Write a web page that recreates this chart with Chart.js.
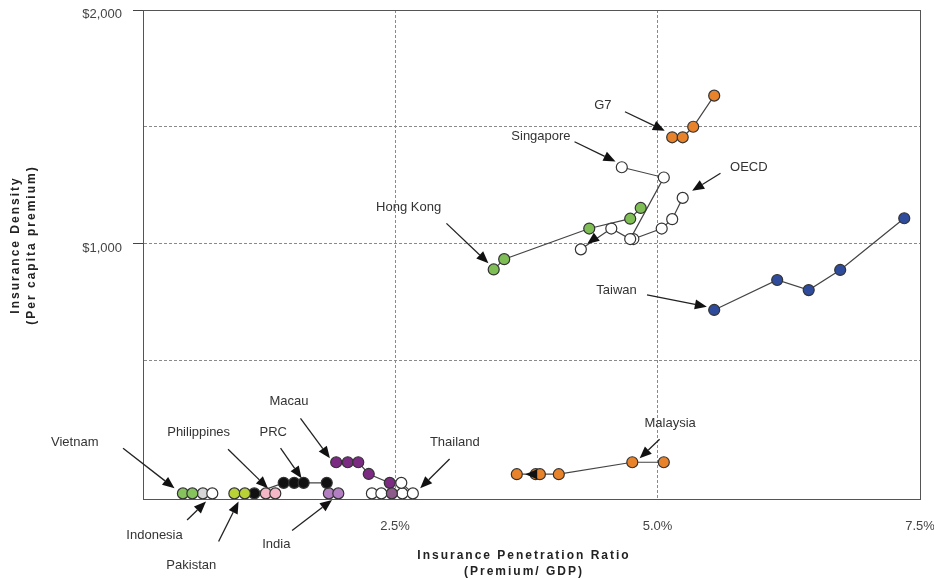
<!DOCTYPE html>
<html>
<head>
  <title>Insurance Density vs Penetration</title>
  <script src="https://cdn.jsdelivr.net/npm/chart.js"></script>
  <style>
    html, body { margin: 0; padding: 0; background: #fff; }
    #wrap { width: 934px; height: 579px; }
  </style>
</head>
<body>
  <div id="wrap"><canvas id="densityChart" width="934" height="579"></canvas></div>
  <script>
    // x = insurance penetration (premium / GDP, %), y = insurance density (US$ per capita)
    const vietnam     = [[0.48, -66], [0.57, -66]];
    const indonesia   = [[0.67, -66], [0.76, -66]];
    const pakistan    = [[0.97, -66], [1.07, -66]];
    const philippines = [[1.27, -66], [1.36, -66]];
    const prc         = [[1.16, -66], [1.44, -21], [1.54, -21], [1.63, -21], [1.85, -21]];
    const india       = [[1.87, -66], [1.96, -66]];
    const macau       = [[1.94, 67], [2.05, 67], [2.15, 67], [2.25, 17], [2.45, -21], [2.47, -66]];
    const thailand    = [[2.28, -66], [2.37, -66], [2.57, -66], [2.67, -66], [2.56, -21]];
    const malaysia    = [[3.66, 16], [3.84, 16], [3.88, 16], [4.06, 16], [4.76, 67], [5.06, 67]];
    const hongKong    = [[3.44, 891], [3.54, 935], [4.35, 1066], [4.74, 1108], [4.84, 1154]];
    const singapore   = [[4.27, 977], [4.56, 1066], [4.74, 1021], [5.06, 1284], [4.66, 1328]];
    const oecd        = [[4.77, 1021], [5.04, 1066], [5.14, 1106], [5.24, 1197]];
    const g7          = [[5.14, 1456], [5.24, 1456], [5.34, 1501], [5.54, 1634]];
    const taiwan      = [[5.54, 718], [6.14, 846], [6.44, 803], [6.74, 889], [7.35, 1110]];

    const xTickValues = [2.5, 5.0, 7.5];
    const xTickLabels = ['2.5%', '5.0%', '7.5%'];
    const yGridValues = [500, 1000, 1500, 2000];
    const yTickValues = [1000, 2000];
    const yTickLabels = ['$1,000', '$2,000'];

    // callouts: label position, then arrow tail -> arrow tip (all in data units)
    const callouts = [
      { text: 'Vietnam',     at: [-0.55, 153],   from: [-0.09, 127],  to: [0.40, -44] },
      { text: 'Philippines', at: [0.63, 194],    from: [0.91, 123],   to: [1.29, -44] },
      { text: 'PRC',         at: [1.34, 194],    from: [1.41, 127],   to: [1.61, -1] },
      { text: 'Macau',       at: [1.49, 326],    from: [1.60, 255],   to: [1.88, 84] },
      { text: 'Thailand',    at: [3.07, 153],    from: [3.02, 81],    to: [2.74, -44] },
      { text: 'Indonesia',   at: [0.21, -244],   from: [0.52, -180],  to: [0.70, -101] },
      { text: 'Pakistan',    at: [0.56, -372],   from: [0.82, -272],  to: [1.01, -101] },
      { text: 'India',       at: [1.37, -283],   from: [1.52, -225],  to: [1.90, -94] },
      { text: 'Malaysia',    at: [5.12, 234],    from: [5.02, 165],   to: [4.83, 84] },
      { text: 'G7',          at: [4.48, 1591],   from: [4.69, 1565],  to: [5.07, 1484] },
      { text: 'Singapore',   at: [3.89, 1459],   from: [4.21, 1437],  to: [4.60, 1352] },
      { text: 'OECD',        at: [5.87, 1328],   from: [5.60, 1302],  to: [5.33, 1227] },
      { text: 'Hong Kong',   at: [2.63, 1155],   from: [2.99, 1088],  to: [3.39, 918] },
      { text: 'Taiwan',      at: [4.61, 803],    from: [4.90, 782],   to: [5.47, 732] },
      { text: '',            at: null,           from: [4.42, 1030],  to: [4.33, 1000] },
      { text: '',            at: null,           from: [3.83, 16],    to: [3.74, 16] }
    ];

    const FONT = '"Liberation Sans", Arial, sans-serif';
    const ORANGE = '#e8832c';

    function series(label, pts, color) {
      return {
        label: label,
        data: pts.map(p => ({ x: p[0], y: p[1] })),
        showLine: true,
        borderColor: '#444',
        borderWidth: 1.2,
        pointBackgroundColor: color,
        pointBorderColor: '#333',
        pointBorderWidth: 1.2,
        pointRadius: 5.5,
        pointHoverRadius: 5.5
      };
    }

    const calloutPlugin = {
      id: 'callouts',
      afterDatasetsDraw(chart) {
        const ctx = chart.ctx;
        const xs = chart.scales.x, ys = chart.scales.y;
        ctx.save();
        ctx.font = '13px ' + FONT;
        ctx.strokeStyle = '#222';
        ctx.lineWidth = 1.3;
        ctx.textAlign = 'center';
        ctx.textBaseline = 'middle';
        callouts.forEach(c => {
          if (c.at) {
            ctx.fillStyle = '#333';
            ctx.fillText(c.text, xs.getPixelForValue(c.at[0]), ys.getPixelForValue(c.at[1]));
          }
          const x1 = xs.getPixelForValue(c.from[0]), y1 = ys.getPixelForValue(c.from[1]);
          const x2 = xs.getPixelForValue(c.to[0]), y2 = ys.getPixelForValue(c.to[1]);
          const ang = Math.atan2(y2 - y1, x2 - x1);
          const len = Math.hypot(x2 - x1, y2 - y1);
          const head = 12, half = 5;
          if (len > head) {
            ctx.beginPath();
            ctx.moveTo(x1, y1);
            ctx.lineTo(x2 - Math.cos(ang) * head, y2 - Math.sin(ang) * head);
            ctx.stroke();
          }
          ctx.beginPath();
          ctx.moveTo(x2, y2);
          ctx.lineTo(x2 - Math.cos(ang) * head - Math.sin(ang) * half, y2 - Math.sin(ang) * head + Math.cos(ang) * half);
          ctx.lineTo(x2 - Math.cos(ang) * head + Math.sin(ang) * half, y2 - Math.sin(ang) * head - Math.cos(ang) * half);
          ctx.closePath();
          ctx.fillStyle = '#111';
          ctx.fill();
        });
        ctx.restore();
      }
    };

    const framePlugin = {
      id: 'frame',
      beforeDatasetsDraw(chart) {
        const a = chart.chartArea, ctx = chart.ctx;
        ctx.save();
        ctx.strokeStyle = '#555';
        ctx.lineWidth = 1;
        ctx.strokeRect(a.left + 0.5, a.top + 0.5, a.right - a.left, a.bottom - a.top);
        ctx.restore();
      },
      afterDraw(chart) {
        const ctx = chart.ctx;
        ctx.save();
        ctx.fillStyle = '#222';
        ctx.font = 'bold 12px ' + FONT;
        ctx.letterSpacing = '2px';
        ctx.textAlign = 'center';
        ctx.textBaseline = 'middle';
        ctx.fillText('Insurance Penetration Ratio', 524, 556);
        ctx.fillText('(Premium/ GDP)', 524, 572);
        ctx.translate(16, 245);
        ctx.rotate(-Math.PI / 2);
        ctx.fillText('Insurance Density', 0, 0);
        ctx.fillText('(Per capita premium)', 0, 16);
        ctx.restore();
      }
    };

    new Chart(document.getElementById('densityChart'), {
      type: 'scatter',
      data: {
        datasets: [
          series('Vietnam', vietnam, '#86c35c'),
          series('Indonesia', indonesia, ['#d6d6d6', '#ffffff']),
          series('Pakistan', pakistan, '#b9d235'),
          series('Philippines', philippines, '#f3b7c7'),
          series('PRC', prc, '#111111'),
          series('India', india, '#b47fc2'),
          series('Macau', macau, ['#7c2b83', '#7c2b83', '#7c2b83', '#7c2b83', '#7c2b83', '#8d5b8b']),
          series('Thailand', thailand, '#ffffff'),
          series('Malaysia', malaysia, ORANGE),
          series('Hong Kong', hongKong, '#7fbd55'),
          series('Singapore', singapore, '#ffffff'),
          series('OECD', oecd, '#ffffff'),
          series('G7', g7, ORANGE),
          series('Taiwan', taiwan, '#2f4b9c')
        ]
      },
      options: {
        responsive: false,
        animation: false,
        layout: { padding: { top: 10, right: 14, left: 0, bottom: 0 } },
        plugins: { legend: { display: false }, tooltip: { enabled: false } },
        scales: {
          x: {
            type: 'linear',
            min: 0.1,
            max: 7.5,
            afterBuildTicks: s => { s.ticks = xTickValues.map(v => ({ value: v })); },
            afterFit: s => { s.height = 80; s.paddingLeft = 0; s.paddingRight = 0; },
            ticks: {
              padding: 20,
              color: '#444',
              font: { family: FONT, size: 13 },
              maxRotation: 0,
              callback: v => xTickLabels[xTickValues.indexOf(v)]
            },
            grid: {
              drawTicks: false,
              color: c => (c.tick && c.tick.value === 7.5) ? 'rgba(0,0,0,0)' : '#8a8a8a',
              lineWidth: 1
            },
            border: { color: '#555', width: 1, dash: [3, 2] }
          },
          y: {
            type: 'linear',
            min: -90,
            max: 2000,
            afterBuildTicks: s => { s.ticks = yGridValues.map(v => ({ value: v })); },
            afterFit: s => { s.width = 143; s.paddingTop = 0; s.paddingBottom = 0; },
            ticks: {
              padding: 11,
              labelOffset: 4,
              color: '#444',
              font: { family: FONT, size: 13 },
              callback: v => {
                const i = yTickValues.indexOf(v);
                return i >= 0 ? yTickLabels[i] : '';
              }
            },
            grid: {
              tickLength: 10,
              color: c => (c.tick && c.tick.value === 2000) ? 'rgba(0,0,0,0)' : '#8a8a8a',
              tickColor: c => (c.tick && yTickValues.includes(c.tick.value)) ? '#444' : 'rgba(0,0,0,0)',
              tickBorderDash: [],
              lineWidth: 1
            },
            border: { color: '#555', width: 1, dash: [3, 2] }
          }
        }
      },
      plugins: [framePlugin, calloutPlugin]
    });
  </script>
</body>
</html>
